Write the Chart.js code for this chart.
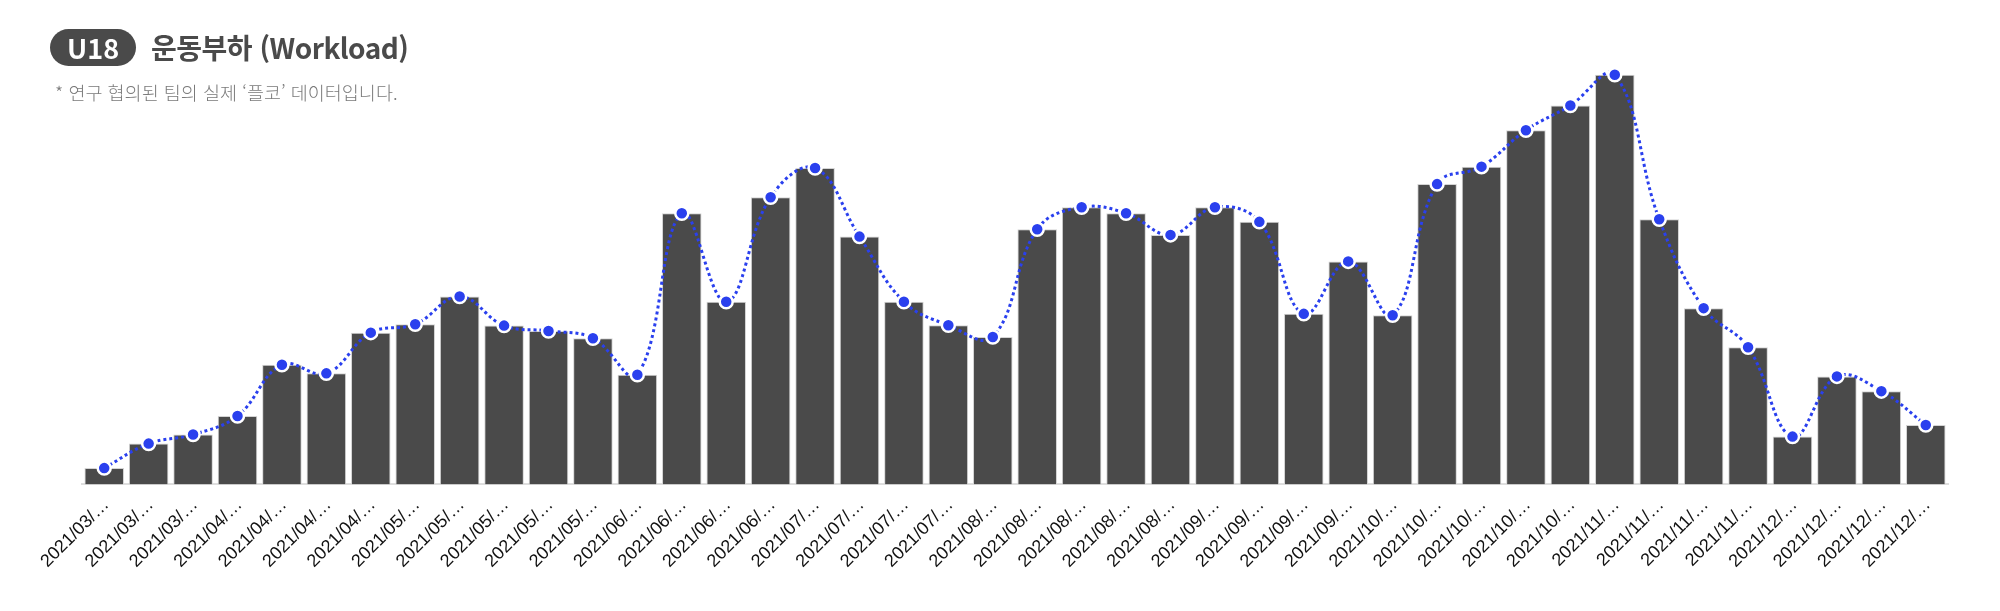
<!DOCTYPE html>
<html lang="ko">
<head>
<meta charset="utf-8">
<script src="https://cdn.jsdelivr.net/npm/chart.js@4.4.1/dist/chart.umd.min.js"></script>
<style>
    html, body { margin: 0; padding: 0; background: #fff; }
    body { width: 2000px; height: 611px; position: relative; overflow: hidden; font-family: "Noto Sans CJK KR", "Noto Sans", sans-serif; }
    #chartWrap { position: absolute; left: 0; top: 0; width: 2000px; height: 611px; }
    .head { position: absolute; left: 50px; top: 27px; display: flex; align-items: center; }
    .badge { background: #4a4a4a; color: #fff; font-weight: 700; font-size: 27px; height: 37px; line-height: 37px; padding: 0 17px; border-radius: 19px; }
    .title { margin-left: 15px; color: #4a4a4a; font-weight: 700; font-size: 28px; letter-spacing: -0.5px; }
    .note { position: absolute; left: 55px; top: 79px; color: #7a7a7a; font-size: 18.5px; font-weight: 300; }
</style>
</head>
<body>
<div id="chartWrap"><canvas id="workloadChart"></canvas></div>
<div class="head"><span class="badge">U18</span><span class="title">운동부하 (Workload)</span></div>
<div class="note">* 연구 협의된 팀의 실제 ‘플코’ 데이터입니다.</div>

<script>
// 날짜 라벨 (원본에서 잘려서 표시됨)
const months = ['03', '03', '03', '04', '04', '04', '04', '05', '05', '05', '05', '05',
    '06', '06', '06', '06', '07', '07', '07', '07', '08', '08', '08', '08', '08',
    '09', '09', '09', '09', '10', '10', '10', '10', '10', '11', '11', '11', '11',
    '12', '12', '12', '12'];
const labels = months.map(m => '2021/' + m + '/…');

// 주간 운동부하 값
const workload = [163, 407, 497, 683, 1193, 1107, 1513, 1597, 1873, 1583, 1530, 1457,
    1093, 2703, 1820, 2863, 3153, 2470, 1820, 1587, 1470, 2543, 2763, 2703, 2487,
    2763, 2617, 1700, 2223, 1687, 2993, 3167, 3530, 3777, 4083, 2643, 1757, 1367,
    477, 1077, 930, 593];

const yMax = 4200;

const ctx = document.getElementById('workloadChart');

new Chart(ctx, {
    type: 'bar',
    data: {
        labels: labels,
        datasets: [
            {
                type: 'line',
                label: '추세',
                data: workload,
                borderColor: '#2a40ee',
                borderWidth: 3,
                borderDash: [3, 3],
                tension: 0.4,
                pointRadius: 6.5,
                pointBorderWidth: 2.5,
                pointBackgroundColor: '#2a40ee',
                pointBorderColor: '#ffffff',
                fill: false,
                order: 0
            },
            {
                type: 'bar',
                label: '운동부하',
                data: workload,
                backgroundColor: '#4a4a4a',
                borderColor: '#d4d4d4',
                borderWidth: 1,
                categoryPercentage: 1,
                barPercentage: 0.89,
                order: 1
            }
        ]
    },
    options: {
        responsive: true,
        maintainAspectRatio: false,
        animation: false,
        layout: {
            padding: { left: 82, right: 52, top: 63, bottom: 29 }
        },
        plugins: {
            legend: { display: false },
            tooltip: { enabled: false }
        },
        scales: {
            x: {
                grid: { display: false, drawTicks: false },
                border: { display: true, color: '#dedede', width: 2 },
                ticks: {
                    color: '#111',
                    font: { family: 'Liberation Sans', size: 18 },
                    minRotation: 45,
                    maxRotation: 45,
                    autoSkip: false,
                    padding: 10,
                    labelOffset: 2
                }
            },
            y: {
                display: false,
                min: 0,
                max: yMax
            }
        }
    }
});
</script>
</body>
</html>
